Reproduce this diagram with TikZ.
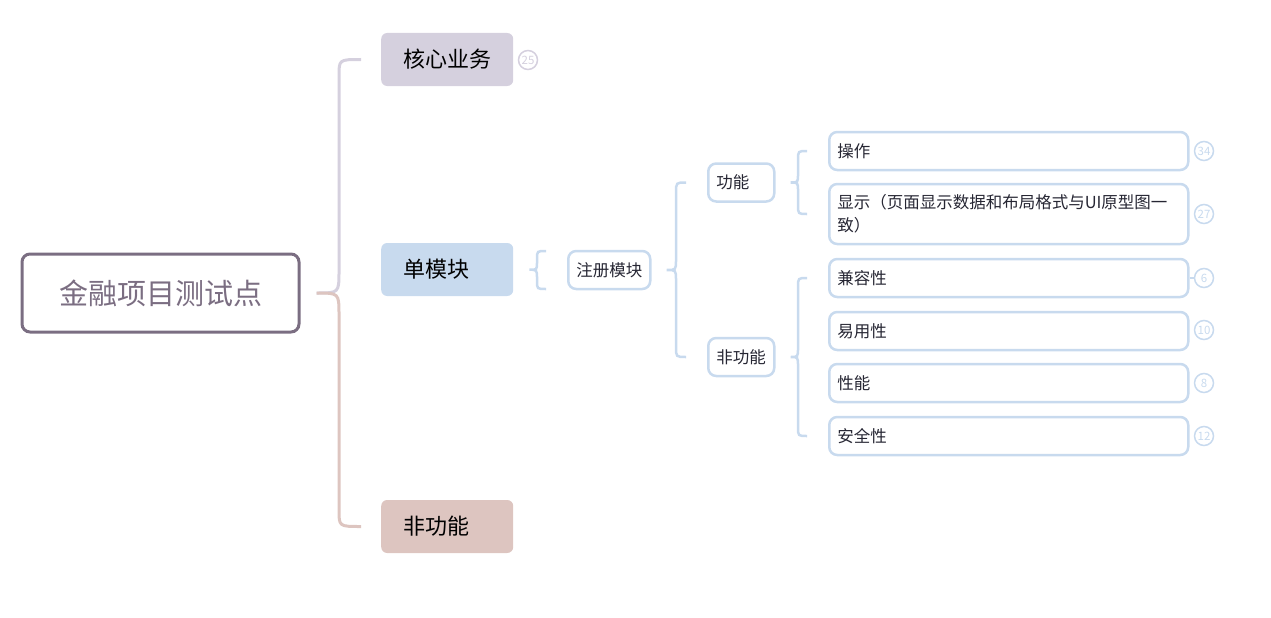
\documentclass[tikz,border=0pt]{standalone}
\usepackage{fontspec}
\setmainfont{Noto Sans CJK SC}
\usepackage{tikz}
\usetikzlibrary{positioning}
\definecolor{mmroot}{HTML}{7B6E82}
\definecolor{mmcore}{HTML}{D5D0DE}
\definecolor{mmunit}{HTML}{C8DAEE}
\definecolor{mmnonf}{HTML}{DDC5C0}
\definecolor{mmtext}{HTML}{262633}

\begin{document}
\begin{tikzpicture}[x=1pt,y=-1pt,
  rootbox/.style={draw=mmroot,line width=3pt,rounded corners=8pt,minimum width=277pt,minimum height=78pt,text=mmroot,font=\fontsize{29}{34}\selectfont},
  topicbox/.style={rounded corners=6pt,minimum height=53pt,text width=88pt,inner xsep=22pt,align=left,font=\fontsize{22}{26}\selectfont},
  subbox/.style={draw=mmunit,line width=2.5pt,rounded corners=8pt,fill=white,inner xsep=8pt,minimum height=38pt,text=mmtext,font=\fontsize{16.5}{23}\selectfont},
  leafbox/.style={subbox,text width=343pt,inner xsep=8pt,align=left},
  badge/.style={circle,draw=mmunit,line width=1.5pt,minimum size=19pt,inner sep=0pt,text=mmunit,font=\fontsize{11.5}{12}\selectfont},
  rootline/.style={line width=3pt},
  brace/.style={line width=2.5pt,draw=mmunit},
]
\useasboundingbox (0,0) rectangle (1271,618);

% root and first level
\node[rootbox,anchor=west] (root) at (20.5,293) {金融项目测试点};
\node[topicbox,fill=mmcore,anchor=west] (core) at (381,59.5) {核心业务};
\node[topicbox,fill=mmunit,anchor=west] (unit) at (381,269.5) {单模块};
\node[topicbox,fill=mmnonf,anchor=west] (nonf) at (381,526.5) {非功能};
\node[badge,draw=mmcore,text=mmcore] (b-core) at (528,60) {25};

% second and third level
\node[subbox,anchor=west] (reg) at (567,270) {注册模块};
\node[subbox,text width=50pt,align=left,anchor=west] (func) at (707,182.5) {功能};
\node[subbox,text width=50pt,align=left,anchor=west] (nfunc) at (707,357) {非功能};

% leaves
\node[leafbox,anchor=west] (op) at (828,151) {操作};
\node[leafbox,minimum height=60pt,anchor=west] (disp) at (828,214) {显示（页面显示数据和布局格式与UI原型图一\\致）};
\node[leafbox,anchor=west] (compat) at (828,278) {兼容性};
\node[leafbox,anchor=west] (usab) at (828,331) {易用性};
\node[leafbox,anchor=west] (perf) at (828,383) {性能};
\node[leafbox,anchor=west] (safe) at (828,436) {安全性};

\node[badge] (b-op) at (1204,151) {34};
\node[badge] (b-disp) at (1204,214) {27};
\node[badge] (b-compat) at (1204,278) {6};
\node[badge] (b-usab) at (1204,330) {10};
\node[badge] (b-perf) at (1204,383) {8};
\node[badge] (b-safe) at (1204,436) {12};

% braces
\draw[rootline,mmcore] ([xshift=16pt]root.east) .. controls (339,293) .. (339,271) -- (339,76) .. controls (339,59.5) .. ([xshift=-20pt]core.west);
\draw[rootline,mmnonf] ([xshift=16pt]root.east) .. controls (339,293) .. (339,315) -- (339,510) .. controls (339,526.5) .. ([xshift=-20pt]nonf.west);

\draw[brace] ([xshift=-21pt,yshift=19pt]reg.west) .. controls (537,251) .. (537,259) -- (537,262) .. controls (537,270) .. ([xshift=16pt]unit.east)
  .. controls (537,270) .. (537,278) -- (537,281) .. controls (537,289) .. ([xshift=-21pt,yshift=-19pt]reg.west);

\draw[brace] ([xshift=-21pt]func.west) .. controls (676,182.5) .. (676,193) -- (676,260) .. controls (676,270) .. ([xshift=15pt]reg.east)
  .. controls (676,270) .. (676,280) -- (676,347) .. controls (676,357) .. ([xshift=-21pt]nfunc.west);

\draw[brace] ([xshift=-21pt]op.west) .. controls (798,151) .. (798,160) -- (798,174) .. controls (798,182.5) .. ([xshift=15pt]func.east)
  .. controls (798,182.5) .. (798,191) -- (798,205) .. controls (798,214) .. ([xshift=-21pt]disp.west);

\draw[brace] ([xshift=-21pt]compat.west) .. controls (798,278) .. (798,287) -- (798,348) .. controls (798,357) .. ([xshift=15pt]nfunc.east)
  .. controls (798,357) .. (798,366) -- (798,427) .. controls (798,436) .. ([xshift=-21pt]safe.west);

\draw[mmunit,line width=1.5pt] (compat.east) -- (b-compat.west);
\end{tikzpicture}
\end{document}
